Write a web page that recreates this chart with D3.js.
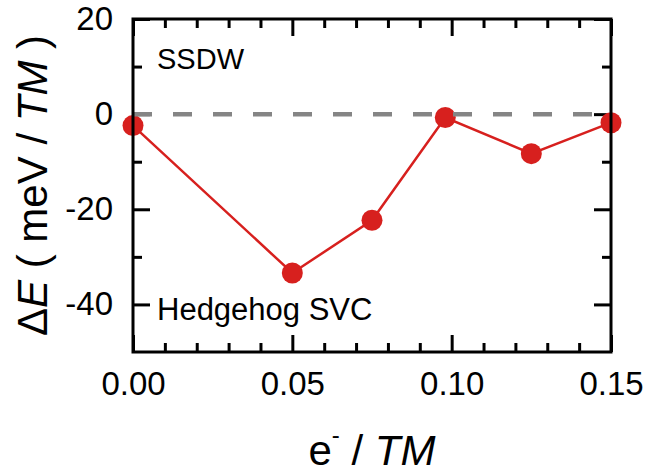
<!DOCTYPE html>
<html>
<head>
<meta charset="utf-8">
<script src="https://cdn.jsdelivr.net/npm/d3@7"></script>
<style>
  body { margin: 0; background: #fff; }
  text { font-family: "Liberation Sans", Arial, sans-serif; fill: #000; }
</style>
</head>
<body>
<div id="chart"></div>
<script>
// values
var doping = [0, 0.05, 0.075, 0.098, 0.125, 0.15];
var deltaE = [-2.4, -33.4, -22.3, -0.7, -8.3, -1.8];

var xMajor = [0, 0.05, 0.10, 0.15];
var xMinor = [0.01, 0.02, 0.03, 0.04, 0.06, 0.07, 0.08, 0.09, 0.11, 0.12, 0.13, 0.14];
var yMajor = [20, 0, -20, -40];
var yMinor = [10, -10, -30];

var W = 646, H = 472;
var pLeft = 133, pRight = 611, pTop = 19, pBottom = 352;
var red = "#d7201e";

var svg = d3.select("#chart").append("svg")
    .attr("width", W)
    .attr("height", H);

var x = d3.scaleLinear().domain([0, 0.15]).range([pLeft, pRight]);
var y = d3.scaleLinear().domain([-50, 20]).range([pBottom, pTop]);

function styleAxis(g) {
    g.select(".domain").remove();
    g.selectAll("line").attr("stroke", "#000").attr("stroke-width", 3);
    g.selectAll("text").style("font-size", "33px").attr("fill", "#000");
}

// bottom axis, labels + inward ticks
svg.append("g")
    .attr("transform", "translate(0," + pBottom + ")")
    .call(d3.axisBottom(x).tickValues(xMajor).tickSize(-17).tickPadding(20)
        .tickFormat(d3.format(".2f")))
    .call(styleAxis);
svg.append("g")
    .attr("transform", "translate(0," + pBottom + ")")
    .call(d3.axisBottom(x).tickValues(xMinor).tickSize(-9).tickFormat(""))
    .call(styleAxis);

// top axis mirror ticks
svg.append("g")
    .attr("transform", "translate(0," + pTop + ")")
    .call(d3.axisTop(x).tickValues(xMajor).tickSize(-17).tickFormat(""))
    .call(styleAxis);
svg.append("g")
    .attr("transform", "translate(0," + pTop + ")")
    .call(d3.axisTop(x).tickValues(xMinor).tickSize(-9).tickFormat(""))
    .call(styleAxis);

// left axis
svg.append("g")
    .attr("transform", "translate(" + pLeft + ",0)")
    .call(d3.axisLeft(y).tickValues(yMajor).tickSize(-17).tickPadding(20)
        .tickFormat(function(d) { return d < 0 ? "-" + Math.abs(d) : d; }))
    .call(styleAxis);
svg.append("g")
    .attr("transform", "translate(" + pLeft + ",0)")
    .call(d3.axisLeft(y).tickValues(yMinor).tickSize(-9).tickFormat(""))
    .call(styleAxis);

// right axis mirror ticks
svg.append("g")
    .attr("transform", "translate(" + pRight + ",0)")
    .call(d3.axisRight(y).tickValues(yMajor).tickSize(-17).tickFormat(""))
    .call(styleAxis);
svg.append("g")
    .attr("transform", "translate(" + pRight + ",0)")
    .call(d3.axisRight(y).tickValues(yMinor).tickSize(-9).tickFormat(""))
    .call(styleAxis);

// data line + markers
var pts = doping.map(function(d, i) { return [d, deltaE[i]]; });

svg.append("path")
    .datum(pts)
    .attr("fill", "none")
    .attr("stroke", red)
    .attr("stroke-width", 2.5)
    .attr("d", d3.line().x(function(d) { return x(d[0]); }).y(function(d) { return y(d[1]); }));

svg.selectAll("circle.pt")
    .data(pts)
    .enter().append("circle")
    .attr("class", "pt")
    .attr("cx", function(d) { return x(d[0]); })
    .attr("cy", function(d) { return y(d[1]); })
    .attr("r", 10.5)
    .attr("fill", red);

// zero reference line
svg.append("line")
    .attr("x1", x(0)).attr("x2", x(0.15))
    .attr("y1", y(0)).attr("y2", y(0))
    .attr("stroke", "#858585")
    .attr("stroke-width", 4.5)
    .attr("stroke-dasharray", "19,21");

// frame
svg.append("rect")
    .attr("x", pLeft).attr("y", pTop)
    .attr("width", pRight - pLeft).attr("height", pBottom - pTop)
    .attr("fill", "none")
    .attr("stroke", "#000")
    .attr("stroke-width", 3);

// annotations
svg.append("text")
    .attr("x", 157).attr("y", 69)
    .style("font-size", "29px")
    .text("SSDW");
svg.append("text")
    .attr("x", 157).attr("y", 320)
    .style("font-size", "31px")
    .text("Hedgehog SVC");

// axis titles
var xt = svg.append("text")
    .attr("x", (pLeft + pRight) / 2).attr("y", 465)
    .attr("text-anchor", "middle")
    .style("font-size", "42px");
xt.append("tspan").text("e");
xt.append("tspan").attr("dy", -22).style("font-size", "24px").text("-");
xt.append("tspan").attr("dy", 22).text(" / ");
xt.append("tspan").style("font-style", "italic").text("TM");

var yt = svg.append("text")
    .attr("transform", "translate(47," + (pTop + pBottom) / 2 + ") rotate(-90)")
    .attr("text-anchor", "middle")
    .style("font-size", "42px");
yt.append("tspan").text("\u0394");
yt.append("tspan").style("font-style", "italic").text("E");
yt.append("tspan").text(" ( meV / ");
yt.append("tspan").style("font-style", "italic").text("TM");
yt.append("tspan").text(" )");
</script>
</body>
</html>
